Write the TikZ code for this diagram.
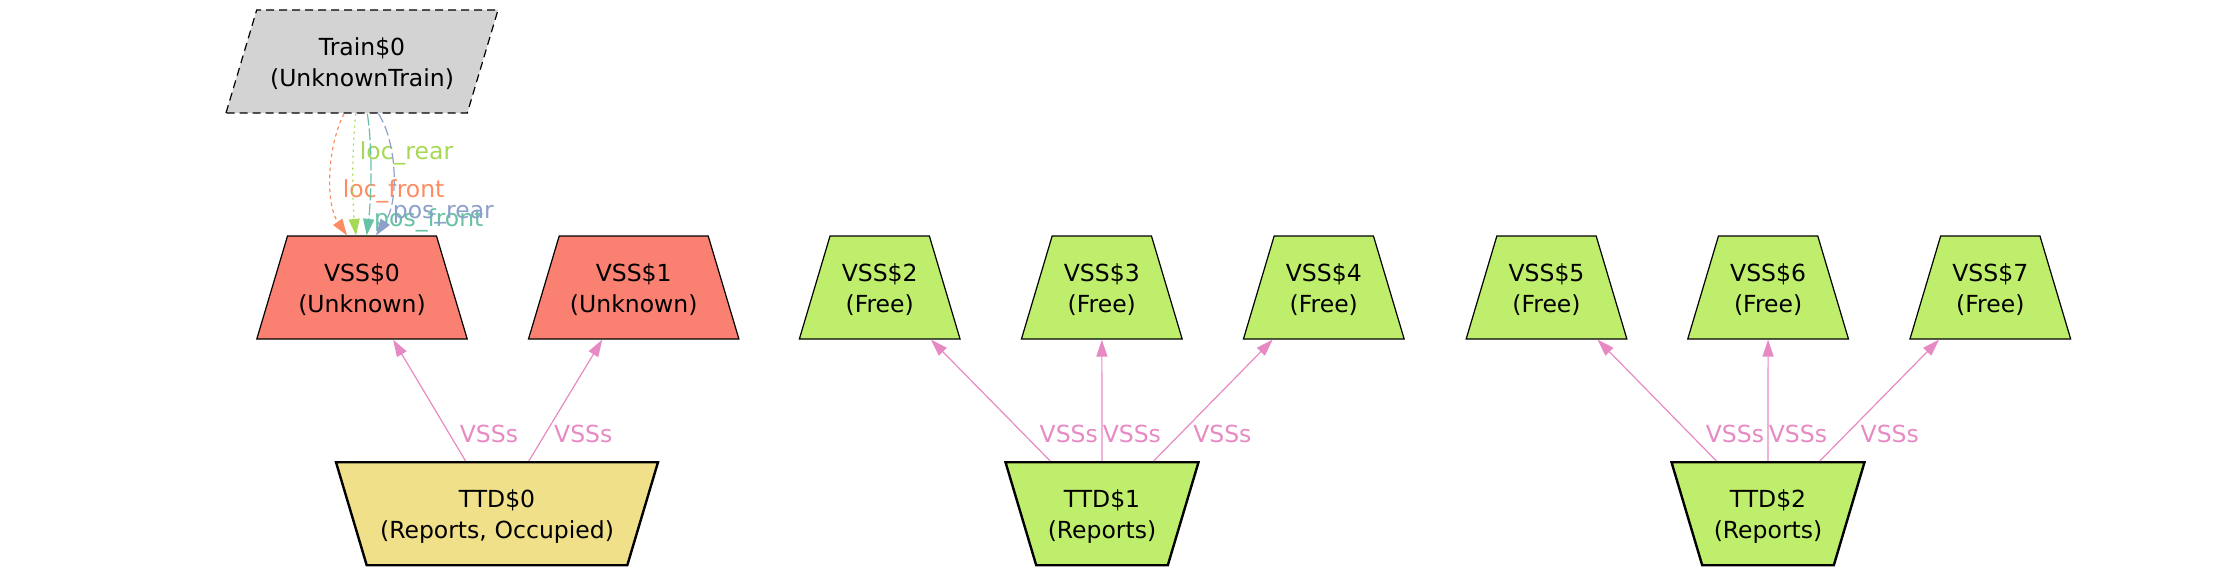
\documentclass[tikz,border=0pt]{standalone}
\usepackage{fontspec}
\setmainfont{DejaVu Sans}
\usetikzlibrary{shapes.geometric,arrows.meta}
\definecolor{vsspink}{HTML}{E78AC3}
\definecolor{unkfill}{HTML}{FA8072}
\definecolor{freefill}{HTML}{BFEE6C}
\definecolor{occfill}{HTML}{F0E08A}
\definecolor{trainfill}{HTML}{D3D3D3}
\definecolor{cfront}{HTML}{FC8D62}
\definecolor{crear}{HTML}{A6D854}
\definecolor{pfront}{HTML}{66C2A5}
\definecolor{prear}{HTML}{8DA0CB}
\begin{document}
\begin{tikzpicture}[x=1pt,y=-1pt,
  every node/.style={font=\fontsize{23.5}{31}\selectfont},
  boxtext/.style={inner xsep=0pt, inner ysep=0pt, text height=45.5pt, text depth=57.5pt,
    minimum height=0pt, minimum width=0pt, align=center},
  trap/.style={trapezium, trapezium left angle=73.4, trapezium right angle=73.4,
    draw=black, boxtext},
  vssunk/.style={trap, fill=unkfill, line width=1.2pt, text width=149pt},
  vssfree/.style={trap, fill=freefill, line width=1.2pt, text width=99.3pt},
  ttdbox/.style={trap, shape border rotate=180, line width=2.4pt},
  trainbox/.style={trapezium, trapezium left angle=73.4, trapezium right angle=106.6,
    draw=black, fill=trainfill, line width=1.2pt, dash pattern=on 8pt off 5pt,
    boxtext, text width=210.6pt},
  vssedge/.style={draw=vsspink, line width=1.2pt, -{Triangle[length=17pt,width=11pt]}},
  elabel/.style={text=vsspink, inner sep=0pt, anchor=center, pos=0.22},
  trainedge/.style={line width=1.2pt, -{Triangle[length=16.5pt,width=11pt]}},
  tlabel/.style={inner sep=0pt, anchor=base west}
]
\useasboundingbox (0,0) rectangle (2235,575);

% nodes
\node[trainbox] (Train) at (362,61.5) {Train\$0\\(UnknownTrain)};

\node[vssunk] (VSS0) at (362,287.5) {VSS\$0\\(Unknown)};
\node[vssunk] (VSS1) at (633.7,287.5) {VSS\$1\\(Unknown)};
\node[vssfree] (VSS2) at (879.7,287.5) {VSS\$2\\(Free)};
\node[vssfree] (VSS3) at (1101.8,287.5) {VSS\$3\\(Free)};
\node[vssfree] (VSS4) at (1323.8,287.5) {VSS\$4\\(Free)};
\node[vssfree] (VSS5) at (1546.5,287.5) {VSS\$5\\(Free)};
\node[vssfree] (VSS6) at (1768.1,287.5) {VSS\$6\\(Free)};
\node[vssfree] (VSS7) at (1990.3,287.5) {VSS\$7\\(Free)};

\node[ttdbox, fill=occfill, text width=260.6pt] (TTD0) at (497,513.7) {TTD\$0\\(Reports, Occupied)};
\node[ttdbox, fill=freefill, text width=131.6pt] (TTD1) at (1102,513.7) {TTD\$1\\(Reports)};
\node[ttdbox, fill=freefill, text width=131.6pt] (TTD2) at (1768,513.7) {TTD\$2\\(Reports)};

% TTD -> VSS edges
\draw[vssedge] (TTD0) -- node[elabel, xshift=39.3pt] (l0) {VSSs} (VSS0);
\draw[vssedge] (TTD0) -- node[elabel, xshift=38.3pt] (l1) {VSSs} (VSS1);
\draw[vssedge] (TTD1) -- node[elabel, xshift=44.8pt] (l2) {VSSs} (VSS2);
\draw[vssedge] (TTD1) -- node[elabel, xshift=29.9pt] (l3) {VSSs} (VSS3);
\draw[vssedge] (TTD1) -- node[elabel, xshift=42.5pt] (l4) {VSSs} (VSS4);
\draw[vssedge] (TTD2) -- node[elabel, xshift=44.7pt] (l5) {VSSs} (VSS5);
\draw[vssedge] (TTD2) -- node[elabel, xshift=29.9pt] (l6) {VSSs} (VSS6);
\draw[vssedge] (TTD2) -- node[elabel, xshift=43.7pt] (l7) {VSSs} (VSS7);

% Train -> VSS0 edges
\draw[trainedge, draw=cfront, dash pattern=on 3.5pt off 3.5pt]
  ([xshift=-18pt]Train.south) .. controls (326,150) and (326,205) .. ([xshift=-15pt]VSS0.north)
  node[tlabel, text=cfront] (lf) at (342.3,197.7) {loc\_front};
\draw[trainedge, draw=crear, dash pattern=on 2pt off 4pt]
  ([xshift=-6.3pt]Train.south) .. controls (352,150) and (352,200) .. ([xshift=-6pt]VSS0.north)
  node[tlabel, text=crear] (lr) at (359.3,159) {loc\_rear};
\draw[trainedge, draw=pfront, dash pattern=on 12pt off 3pt]
  ([xshift=5.3pt]Train.south) .. controls (373,150) and (371,200) .. ([xshift=4.7pt]VSS0.north)
  node[tlabel, text=pfront] (pf) at (373.6,226.7) {pos\_front};
\draw[trainedge, draw=prear, dash pattern=on 10pt off 4pt]
  ([xshift=16.3pt]Train.south) .. controls (396,140) and (400,200) .. ([xshift=14pt]VSS0.north)
  node[tlabel, text=prear] (pr) at (392.3,218.3) {pos\_rear};
\end{tikzpicture}
\end{document}
